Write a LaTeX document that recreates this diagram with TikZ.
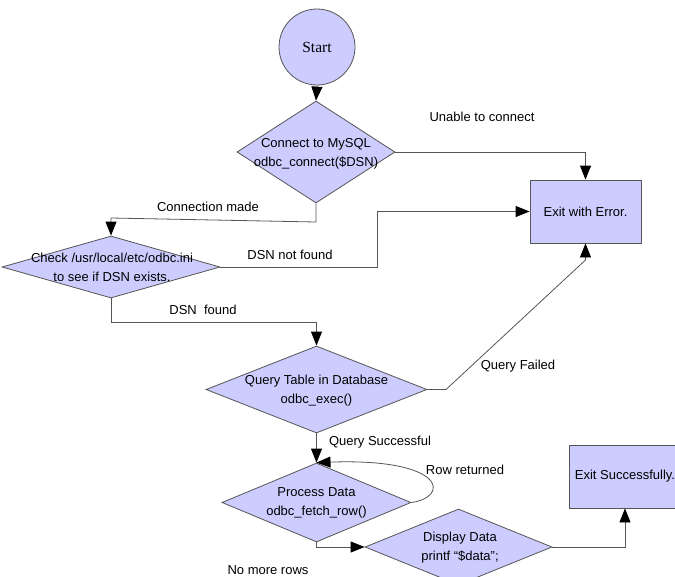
\documentclass[tikz,border=0pt]{standalone}
\usepackage{fontspec}
\setmainfont{Liberation Sans}
\newfontfamily\serifface{Liberation Serif}
\usetikzlibrary{shapes.geometric,arrows.meta}
\definecolor{lav}{RGB}{204,204,255}
\definecolor{edge}{RGB}{85,85,85}
\begin{document}
\begin{tikzpicture}[x=1pt,y=-1pt,font=\fontsize{13}{19}\selectfont,
  dia/.style={diamond, draw=edge, fill=lav, inner sep=0pt, line width=0.8pt},
  boxn/.style={rectangle, draw=edge, fill=lav, minimum width=111pt, minimum height=63pt, line width=0.8pt},
  lbl/.style={inner sep=0pt},
  conn/.style={draw=edge, line width=0.8pt},
  arr/.style={conn, -{Triangle[length=14pt,width=11pt,color=black]}}]
\useasboundingbox (0,0) rectangle (675,576);
\clip (0,0) rectangle (675,576);
% nodes
\node[circle, draw=edge, fill=lav, minimum size=76pt, inner sep=0pt, line width=0.8pt,
      font=\serifface\fontsize{15.5}{18}\selectfont] (start) at (317,47) {Start};
\node[dia, minimum width=158pt, minimum height=102pt] (d1) at (316,152) {};
\node[lbl, align=center] (t1) at (316,153.5) {Connect to MySQL\\odbc\_connect(\$DSN)};
\node[dia, minimum width=218pt, minimum height=62pt] (d2) at (111,267) {};
\node[lbl, align=center] (t2) at (112,267.5) {Check /usr/local/etc/odbc.ini\\to see if DSN exists.};
\node[dia, minimum width=221pt, minimum height=87pt] (d3) at (316.5,389.5) {};
\node[lbl, align=center] (t3) at (316.5,391) {Query Table in Database\\odbc\_exec()};
\node[dia, minimum width=189pt, minimum height=79pt] (d4) at (316.5,502.5) {};
\node[lbl, align=center] (t4) at (316.5,502.5) {Process Data\\odbc\_fetch\_row()};
\node[dia, minimum width=187pt, minimum height=76pt] (d5) at (458.5,547) {};
\node[lbl, align=center] (t5) at (460,548) {Display Data\\printf “\$data”;};
\node[boxn] (err) at (585.5,211.5) {Exit with Error.};
\node[boxn] (suc) at (625,476.5) {Exit Successfully.};
% labels
\node[lbl] (l1) at (482,117) {Unable to connect};
\node[lbl] (l2) at (208,207) {Connection made};
\node[lbl] (l3) at (290,255) {DSN not found};
\node[lbl] (l4) at (203,310) {DSN\ \ found};
\node[lbl] (l5) at (518,366) {Query Failed};
\node[lbl] (l6) at (380,442) {Query Successful};
\node[lbl] (l7) at (465,470) {Row returned};
\node[lbl, anchor=base] (l8) at (268,574.5) {No more rows};
% helper coordinates
\coordinate (cm1) at (316,222);
\coordinate (cm2) at (111,218);
\coordinate (nf) at (377,267);
\coordinate (df) at (111,322);
\coordinate (qf1) at (446,389.5);
\coordinate (qf2) at (585.5,260);
% connectors
\draw[arr] (start.south) -- (d1.north);
\draw[arr] (d1.east) -| (err.north);
\draw[arr] (d1.south) -- (cm1) -- (cm2) -- (d2.north);
\draw[arr] (d2.east) -- (nf) |- (err.west);
\draw[arr] (d2.south) -- (df) -| (d3.north);
\draw[arr] (d3.east) -- (qf1) -- (qf2) -- (err.south);
\draw[arr] (d3.south) -- (d4.north);
\draw[arr] (d4.east) .. controls (450,497) and (446,458) .. (d4.north);
\draw[arr] (d4.south) |- (d5.west);
\draw[arr] (d5.east) -| (suc.south);
\end{tikzpicture}
\end{document}
